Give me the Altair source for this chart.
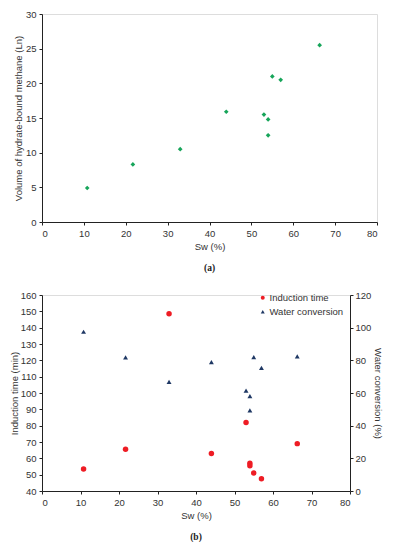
import altair as alt
import pandas as pd

sw = [10.8, 21.7, 33.0, 44.0, 53.0, 54.0, 54.0, 55.0, 57.0, 66.3]
volume = [4.9, 8.3, 10.5, 15.9, 15.5, 14.8, 12.5, 21.0, 20.5, 25.5]

sw_ind = [10.8, 21.7, 33.0, 44.0, 53.0, 54.0, 54.0, 55.0, 57.0, 66.3]
induction = [53.5, 65.5, 148.5, 63.0, 82.0, 57.0, 55.5, 51.0, 47.5, 69.0]

sw_wc = [10.8, 21.7, 33.0, 44.0, 53.0, 54.0, 54.0, 55.0, 57.0, 66.3]
water_conv = [97.5, 81.8, 66.8, 78.9, 61.5, 58.1, 49.3, 82.0, 75.4, 82.4]

series_names = ["Induction time", "Water conversion"]

FONT = "Liberation Sans"
AX = dict(labelFont=FONT, titleFont=FONT, labelFontSize=9.5, titleFontSize=9.5,
          labelColor="#333", titleColor="#333", domainColor="#222", tickColor="#222",
          grid=False, titleFontWeight="normal", tickSize=3)

def xaxis():
    return alt.X("sw:Q", scale=alt.Scale(domain=[0, 80]),
                 axis=alt.Axis(title="Sw (%)", values=list(range(0, 81, 10)), titlePadding=4,
                               labelPadding=3, **AX))

def caption(t):
    return alt.TitleParams(t, orient="bottom", font="Liberation Serif", fontSize=9.5,
                           fontWeight="bold", offset=12, color="#222")

df_a = pd.DataFrame({"sw": sw, "v": volume})
top = alt.Chart(df_a, title=caption("(a)")).mark_point(
    shape="diamond", filled=True, size=22, color="#17a55a", opacity=1).encode(
    x=xaxis(),
    y=alt.Y("v:Q", scale=alt.Scale(domain=[0, 30]),
            axis=alt.Axis(title="Volume of hydrate-bound methane  (Ln)", values=list(range(0, 31, 5)),
                          titlePadding=2, labelPadding=3, **AX)),
).properties(width=335, height=208)

df_i = pd.DataFrame({"sw": sw_ind, "val": induction, "series": series_names[0]})
df_w = pd.DataFrame({"sw": sw_wc, "val": water_conv, "series": series_names[1]})

LEG = dict(title=None, orient="none", legendX=216, legendY=279,
           labelFont=FONT, labelFontSize=9.5, labelColor="#333",
           symbolSize=16, rowPadding=3, labelOffset=2)
col = alt.Color("series:N", scale=alt.Scale(domain=series_names, range=["#ee1c24", "#1f3864"]),
                legend=alt.Legend(**LEG))
shp = alt.Shape("series:N", scale=alt.Scale(domain=series_names, range=["circle", "triangle-up"]),
                legend=alt.Legend(**LEG))

left = alt.Chart(df_i).mark_point(filled=True, size=30, opacity=1).encode(
    x=xaxis(),
    y=alt.Y("val:Q", scale=alt.Scale(domain=[40, 160], zero=False),
            axis=alt.Axis(title="Induction time (min)", values=list(range(40, 161, 10)),
                          titlePadding=1, labelPadding=3, **AX)),
    color=col, shape=shp,
)
right = alt.Chart(df_w).mark_point(filled=True, size=24, opacity=1).encode(
    x=xaxis(),
    y=alt.Y("val:Q", scale=alt.Scale(domain=[0, 120]),
            axis=alt.Axis(title="Water conversion (%)", orient="right", values=list(range(0, 121, 20)),
                          titlePadding=2, labelPadding=2, **AX)),
    color=col, shape=shp,
)
bottom = alt.layer(left, right, title=caption("(b)")).resolve_scale(y="independent").properties(
    width=308, height=196)

chart = alt.vconcat(top, bottom, spacing=16).properties(padding=0).configure_view(
    stroke=None).configure(background="white")

chart.save("out.html", embed_options={"renderer": "svg", "actions": False})
